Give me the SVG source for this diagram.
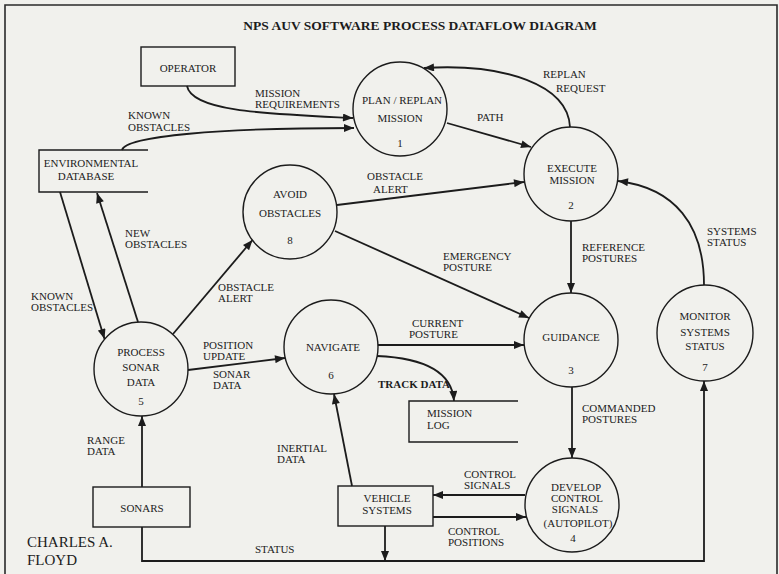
<svg xmlns="http://www.w3.org/2000/svg" width="779" height="574" viewBox="0 0 779 574">
<style>
text{font-family:"Liberation Serif","Times New Roman",serif;font-size:11px;fill:#1c1c1c}
.t{font-size:13.5px;font-weight:bold}
.m{text-anchor:middle}
.b{font-weight:bold}
.sig{font-size:15px}
.node{fill:none;stroke:#1c1c1c;stroke-width:1.4}
.flow{fill:none;stroke:#1c1c1c;stroke-width:1.8;marker-end:url(#ah)}
</style>
<defs>
<marker id="ah" viewBox="0 0 10 8" refX="10" refY="4" markerWidth="11" markerHeight="8" markerUnits="userSpaceOnUse" orient="auto">
<path d="M0,0 L10,4 L0,8 Z" fill="#1c1c1c"/>
</marker>
</defs>
<rect width="779" height="574" fill="#f1f1ed"/>
<path d="M5,574 V5 H777 V574" fill="none" stroke="#2a2a2a" stroke-width="1.6"/>
<text class="t m" x="420" y="30">NPS AUV SOFTWARE PROCESS DATAFLOW DIAGRAM</text>

<g id="operator"><rect class="node" x="141" y="47" width="94" height="39"/><text class="m" x="188" y="72">OPERATOR</text></g>
<g id="env-db"><path class="node" d="M148,150 H39 V192 H148"/><text class="m" x="91" y="167">ENVIRONMENTAL</text><text class="m" x="86" y="180">DATABASE</text></g>
<g id="plan"><circle class="node" cx="400" cy="109" r="47"/><text class="m" x="402" y="104">PLAN / REPLAN</text><text class="m" x="400" y="122">MISSION</text><text class="m" x="400" y="147">1</text></g>
<g id="execute"><circle class="node" cx="571" cy="174" r="47"/><text class="m" x="572" y="172">EXECUTE</text><text class="m" x="572" y="184">MISSION</text><text class="m" x="571" y="209">2</text></g>
<g id="avoid"><circle class="node" cx="290" cy="212" r="47"/><text class="m" x="290" y="198">AVOID</text><text class="m" x="290" y="217">OBSTACLES</text><text class="m" x="290" y="244">8</text></g>
<g id="guidance"><circle class="node" cx="571" cy="340" r="47"/><text class="m" x="571" y="341">GUIDANCE</text><text class="m" x="571" y="374">3</text></g>
<g id="monitor"><circle class="node" cx="705" cy="333" r="48"/><text class="m" x="705" y="320">MONITOR</text><text class="m" x="705" y="336">SYSTEMS</text><text class="m" x="705" y="350">STATUS</text><text class="m" x="705" y="371">7</text></g>
<g id="sonar-proc"><circle class="node" cx="141" cy="369" r="47"/><text class="m" x="141" y="356">PROCESS</text><text class="m" x="141" y="371">SONAR</text><text class="m" x="141" y="386">DATA</text><text class="m" x="141" y="405">5</text></g>
<g id="navigate"><circle class="node" cx="331" cy="347" r="47"/><text class="m" x="333" y="351">NAVIGATE</text><text class="m" x="331" y="379">6</text></g>
<g id="mission-log"><path class="node" d="M518,401 H409 V442 H518"/><text x="427" y="417">MISSION</text><text x="427" y="429">LOG</text></g>
<g id="develop"><circle class="node" cx="572" cy="505" r="47"/><text class="m" x="576" y="491">DEVELOP</text><text class="m" x="577" y="502">CONTROL</text><text class="m" x="575" y="513">SIGNALS</text><text class="m" x="578" y="527">(AUTOPILOT)</text><text class="m" x="573" y="542">4</text></g>
<g id="sonars"><rect class="node" x="93" y="487" width="97" height="40"/><text class="m" x="142" y="512">SONARS</text></g>
<g id="vehicle"><rect class="node" x="338" y="486" width="95" height="40"/><text class="m" x="387" y="502">VEHICLE</text><text class="m" x="387" y="514">SYSTEMS</text></g>

<g id="connectors">
<path class="flow" d="M187,86 C192,112 270,114 353,118"/>
<path class="flow" d="M122,150 C126,136 220,128 354,128"/>
<path class="flow" d="M447,123 L531,147"/>
<path class="flow" d="M570,127 C568,85 505,63 424,68"/>
<path class="flow" d="M337,205 L524,182"/>
<path class="flow" d="M335,231 L529,318"/>
<path class="flow" d="M571,221 L571,293"/>
<path class="flow" d="M704,285 C704,225 675,188 618,181"/>
<path class="flow" d="M378,345 L524,345"/>
<path class="flow" d="M377,356 C425,358 452,372 454,401"/>
<path class="flow" d="M572,387 L572,458"/>
<path class="flow" d="M525,495 L433,495"/>
<path class="flow" d="M433,517 L526,517"/>
<path class="flow" d="M352,486 L334,394"/>
<path class="flow" d="M142,487 L142,416"/>
<path class="flow" d="M142,527 V561 H704 V381"/>
<path class="flow" d="M385,526 L385,561"/>
<path class="flow" d="M60,192 L104.5,339"/>
<path class="flow" d="M138,322 L97,193"/>
<path class="flow" d="M173,334 L252.5,240"/>
<path class="flow" d="M188,370 L285,358"/>
</g>

<g id="flow-labels">
<text x="255" y="97">MISSION</text><text x="255" y="108">REQUIREMENTS</text>
<text x="128" y="119">KNOWN</text><text x="128" y="131">OBSTACLES</text>
<text x="477" y="121">PATH</text>
<text x="543" y="78">REPLAN</text><text x="556" y="92">REQUEST</text>
<text x="367" y="180">OBSTACLE</text><text x="373" y="193">ALERT</text>
<text x="125" y="237">NEW</text><text x="125" y="248">OBSTACLES</text>
<text x="31" y="300">KNOWN</text><text x="31" y="311">OBSTACLES</text>
<text x="218" y="291">OBSTACLE</text><text x="218" y="302">ALERT</text>
<text x="443" y="260">EMERGENCY</text><text x="443" y="271">POSTURE</text>
<text x="582" y="251">REFERENCE</text><text x="582" y="262">POSTURES</text>
<text x="707" y="235">SYSTEMS</text><text x="707" y="246">STATUS</text>
<text x="412" y="327">CURRENT</text><text x="409" y="338">POSTURE</text>
<text x="203" y="349">POSITION</text><text x="203" y="360">UPDATE</text>
<text x="213" y="378">SONAR</text><text x="213" y="389">DATA</text>
<text class="b" x="378" y="388">TRACK DATA</text>
<text x="582" y="412">COMMANDED</text><text x="582" y="423">POSTURES</text>
<text x="87" y="444">RANGE</text><text x="87" y="455">DATA</text>
<text x="277" y="452">INERTIAL</text><text x="277" y="463">DATA</text>
<text x="464" y="478">CONTROL</text><text x="464" y="489">SIGNALS</text>
<text x="448" y="535">CONTROL</text><text x="448" y="546">POSITIONS</text>
<text x="255" y="553">STATUS</text>
</g>
<text class="sig" x="27" y="547">CHARLES A.</text>
<text class="sig" x="27" y="565">FLOYD</text>
</svg>
